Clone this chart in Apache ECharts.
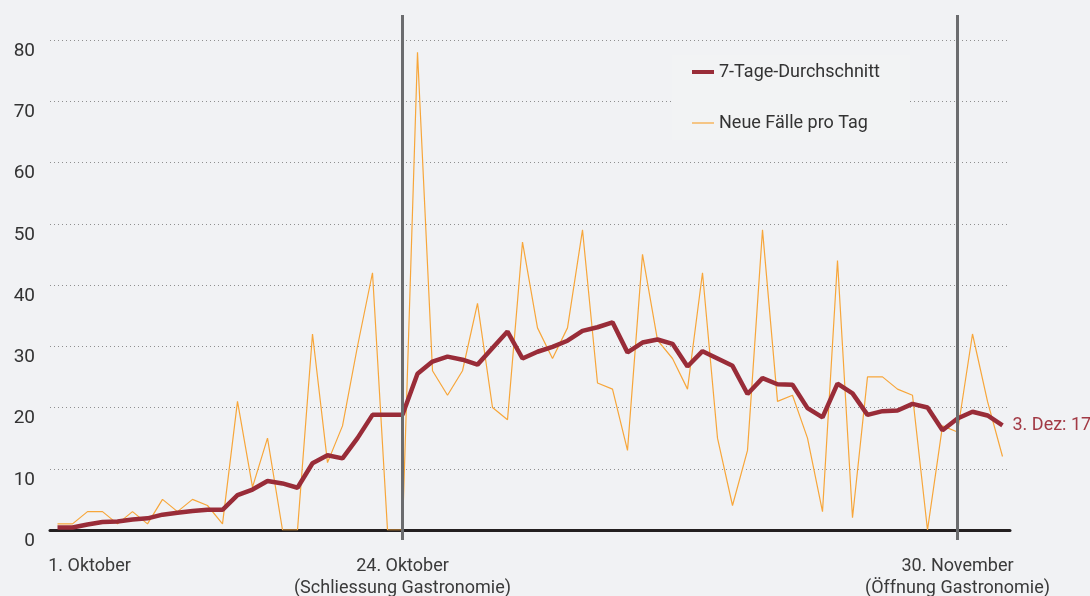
<!DOCTYPE html>
<html>
<head>
<meta charset="utf-8">
<script src="https://cdn.jsdelivr.net/npm/echarts@6/dist/echarts.min.js"></script>
<style>
    html, body {margin: 0; padding: 0; background: #f1f2f4;}
    #chart {width: 1090px; height: 596px;}
</style>
</head>
<body>
<div id="chart"></div>
<script>
// day index 0 = 1. Oktober ... 63 = 3. Dezember
const newCases = [1, 1, 3, 3, 1, 3, 1, 5, 3, 5, 4, 1, 21, 7, 15, 0, 0, 32, 11, 17, 30, 42, 0, 0,
    78, 26, 22, 26, 37, 20, 18, 47, 33, 28, 33, 49, 24, 23, 13, 45, 31, 28, 23, 42, 15, 4, 13, 49,
    21, 22, 15, 3, 44, 2, 25, 25, 23, 22, 0, 17, 16, 32, 21, 12];
const avg7 = [0.4, 0.4, 0.9, 1.3, 1.4, 1.7, 1.9, 2.5, 2.8, 3.1, 3.3, 3.3, 5.7, 6.6, 8.0, 7.6, 6.9,
    10.9, 12.2, 11.7, 15.0, 18.8, 18.8, 18.8, 25.5, 27.5, 28.3, 27.8, 27.0, 29.7, 32.4, 28.0, 29.1,
    29.9, 30.9, 32.5, 33.1, 33.9, 29.0, 30.6, 31.1, 30.4, 26.7, 29.2, 28.0, 26.8, 22.2, 24.8, 23.8,
    23.7, 19.9, 18.4, 23.9, 22.3, 18.8, 19.4, 19.5, 20.6, 20.0, 16.3, 18.2, 19.3, 18.7, 17.1];
const tickDays = [0, 23, 60];
const tickLabels = ['1. Oktober', '24. Oktober\n(Schliessung Gastronomie)', '30. November\n(Öffnung Gastronomie)'];
const markerDays = [23, 60];
const lastLabel = '3. Dez: 17,1';

const FONT = 'Roboto, "Noto Sans", sans-serif';
const RED = '#992c38';
const ORANGE = '#f7a63a';

const chart = echarts.init(document.getElementById('chart'));
chart.setOption({
    animation: false,
    backgroundColor: '#f1f2f4',
    textStyle: {fontFamily: FONT},
    grid: [
        {left: 50, right: 80, top: 40, bottom: 66, outerBoundsMode: 'none', containLabel: false},
        {left: 50, right: 80, top: 15, bottom: 56, outerBoundsMode: 'none', containLabel: false}
    ],
    legend: {
        data: [
            {name: '7-Tage-Durchschnitt', icon: 'path://M0,0H22V4H0Z'},
            {name: 'Neue Fälle pro Tag', icon: 'path://M0,0H22V1.2H0Z'}
        ],
        orient: 'vertical',
        left: 672,
        top: 55,
        padding: [8, 30, 8, 20],
        itemGap: 33,
        itemWidth: 22,
        itemHeight: 14,
        symbolKeepAspect: true,
        backgroundColor: '#f2f3f4',
        textStyle: {fontSize: 18, color: '#333', fontFamily: FONT}
    },
    xAxis: [
        {
            type: 'value',
            min: -0.5,
            max: 63.5,
            axisLine: {show: true, onZero: true, lineStyle: {color: '#231f20', width: 3}},
            axisTick: {show: false},
            splitLine: {show: false},
            axisLabel: {
                customValues: tickDays,
                margin: 25,
                fontSize: 18,
                lineHeight: 22,
                color: '#3a3a3a',
                fontFamily: FONT,
                formatter: v => {
                    let i = tickDays.indexOf(v);
                    if (i === 0) return '{first|' + tickLabels[0] + '}';
                    return tickLabels[i];
                },
                rich: {
                    first: {padding: [0, 0, 0, 64], fontSize: 18, color: '#3a3a3a', fontFamily: FONT}
                }
            }
        },
        {type: 'value', gridIndex: 1, min: -0.5, max: 63.5, show: false}
    ],
    yAxis: [
        {
            type: 'value',
            min: 0,
            max: 80,
            interval: 10,
            axisLine: {show: false},
            axisTick: {show: false},
            splitLine: {show: true, lineStyle: {type: [1, 3], color: '#8f8f8f', width: 1}},
            axisLabel: {
                margin: 15,
                fontSize: 19,
                color: '#333',
                verticalAlign: 'top',
                lineHeight: 22,
                fontFamily: FONT
            }
        },
        {type: 'value', gridIndex: 1, min: 0, max: 1, show: false}
    ],
    series: [
        {
            type: 'line',
            name: 'markers',
            xAxisIndex: 1,
            yAxisIndex: 1,
            data: [],
            z: 1,
            markLine: {
                silent: true,
                symbol: 'none',
                label: {show: false},
                lineStyle: {color: '#6b6c6e', width: 3, type: 'solid'},
                data: markerDays.map(d => ({xAxis: d}))
            }
        },
        {
            type: 'line',
            name: 'Neue Fälle pro Tag',
            data: newCases.map((v, i) => [i, v]),
            symbol: 'none',
            z: 3,
            lineStyle: {color: ORANGE, width: 1.2},
            itemStyle: {color: ORANGE}
        },
        {
            type: 'line',
            name: '7-Tage-Durchschnitt',
            data: avg7.map((v, i) => [i, v]),
            symbol: 'none',
            z: 4,
            lineStyle: {color: RED, width: 4.5},
            itemStyle: {color: RED},
            endLabel: {
                show: true,
                formatter: lastLabel,
                color: '#a23a45',
                fontSize: 18,
                distance: 10,
                fontFamily: FONT
            }
        }
    ]
});
</script>
</body>
</html>
